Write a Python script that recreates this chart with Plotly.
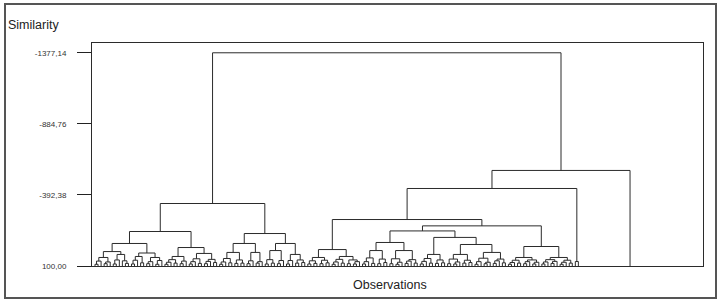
import plotly.graph_objects as go

# ---------------- DATA ----------------
# Lowest-level clusters, Newick-like: "o" = observation, "(a,b)h" = merge at similarity h
cluster_names = ["A1", "A2", "A3", "A4", "B1", "B2", "C1", "C2", "D1", "D2",
                 "E1", "E2", "F1a", "F1b", "F2a", "F2b1", "F2b2", "G1", "G2", "R1b", "X1"]
cluster_newick = [
    "(((o,o)88,o)66,((o,o)84,o)72)41",
    "(((o,o)86,o)58,(o,(o,o)82)64)20",
    "(((o,o)86,o)60,(o,o)78)34",
    "(((o,o)84,o)70,((o,o)88,o)62)41",
    "((((o,o)88,o)74,(o,o)80)56,((o,o)84,o)66)34",
    "((((o,o)86,o)70,(o,o)82)50,(((o,o)84,o)68,(o,o)76)54)13",
    "((((o,o)88,o)72,(o,o)78)48,((o,o)82,(o,o)80)58)6",
    "(((o,o)84,o)64,((o,o)80,o)70)6",
    "(((o,o)86,(o,o)80)56,((o,o)84,o)62)-7",
    "(((o,o)86,o)62,((o,o)80,(o,o)76)58)20",
    "(((o,o)86,(o,o)82)64,((o,o)84,(o,o)78)60)41",
    "((((o,o)88,o)72,(o,o)80)54,((o,o)84,((o,o)86,o)70)58)34",
    "((((o,o)86,o)70,(o,o)82)44,((o,o)84,(o,o)76)52)-7",
    "(((o,o)84,((o,o)88,o)74)50,(((o,o)82,o)66,(o,o)80)56)-7",
    "((((o,o)86,o)68,(o,o)80)48,((o,o)82,(o,o)78)58)20",
    "(((o,o)84,((o,o)86,o)72)52,((o,o)80,(o,o)76)60)20",
    "((((o,o)88,o)70,((o,o)84,o)74)46,(((o,o)82,o)64,(o,o)78)52)6",
    "((((o,o)88,o)76,(o,o)80)60,(((o,o)84,o)70,((o,o)86,o)74)58)41",
    "((((o,o)86,o)72,((o,o)82,o)68)56,(((o,o)88,o)74,(o,o)80)60)41",
    "(o,o)69",
    "o",
]

# Upper merges
merge_name = ["A12", "A34", "A", "B", "L1", "C", "D", "L2", "L", "E",
              "F1", "F2b", "F2", "F", "G", "R1ar", "R1a", "R1", "R", "ROOT"]
merge_left = ["A1", "A3", "A12", "B1", "A", "C1", "D1", "C", "L1", "E1",
              "F1a", "F2b1", "F2a", "F1", "G1", "F", "E", "R1a", "R1", "L"]
merge_right = ["A2", "A4", "A34", "B2", "B", "C2", "D2", "D", "L2", "E2",
               "F1b", "F2b2", "F2b", "F2", "G2", "G", "R1ar", "R1b", "X1", "R"]
merge_sim = [0, 10, -56, -28, -139, -56, -56, -125, -333, -14,
             -63, -49, -98, -143, -35, -178, -222, -437, -562, -1377.14]

tick_vals = [100.00, -392.38, -884.76, -1377.14]
tick_text = ["100,00", "-392,38", "-884,76", "-1377,14"]

BASE = 100.0
leaf_gap_before = {"X1": 16}   # extra spacing before the isolated observation

# ---------------- BUILD ----------------
def parse(s):
    pos = 0

    def node():
        nonlocal pos
        if s[pos] == "o":
            pos += 1
            return ("leaf",)
        pos += 1  # '('
        left = node()
        pos += 1  # ','
        right = node()
        pos += 1  # ')'
        start = pos
        while pos < len(s) and (s[pos].isdigit() or s[pos] in "-."):
            pos += 1
        return ("node", left, right, float(s[start:pos]))

    return node()

trees = {n: parse(s) for n, s in zip(cluster_names, cluster_newick)}
merges = {n: (l, r, h) for n, l, r, h in zip(merge_name, merge_left, merge_right, merge_sim)}

xs, ys = [], []
cursor = [0.0]

def draw_tree(t):
    if t[0] == "leaf":
        x = cursor[0]
        cursor[0] += 1
        return x, BASE
    _, l, r, h = t
    xl, yl = draw_tree(l)
    xr, yr = draw_tree(r)
    xs.extend([xl, xl, xr, xr, None])
    ys.extend([yl, h, h, yr, None])
    return (xl + xr) / 2, h

def draw_named(name):
    if name in merges:
        l, r, h = merges[name]
        xl, yl = draw_named(l)
        xr, yr = draw_named(r)
        xs.extend([xl, xl, xr, xr, None])
        ys.extend([yl, h, h, yr, None])
        return (xl + xr) / 2, h
    cursor[0] += leaf_gap_before.get(name, 0)
    return draw_tree(trees[name])

draw_named("ROOT")

fig = go.Figure()
fig.add_trace(go.Scatter(x=xs, y=ys, mode="lines",
                         line=dict(color="#2b2b2b", width=1),
                         hoverinfo="skip", showlegend=False))

L_M, R_M, T_M, B_M = 92, 20, 43, 36
W, H = 723, 302
pw, ph = W - L_M - R_M, H - T_M - B_M

def px_x(p):
    return (p - L_M) / pw

def px_y(p):
    return (H - B_M - p) / ph

fig.update_layout(
    width=W, height=H,
    margin=dict(l=L_M, r=R_M, t=T_M, b=B_M),
    paper_bgcolor="white", plot_bgcolor="white",
    font=dict(family="Liberation Sans, Arial, sans-serif", color="#222"),
    xaxis=dict(range=[-0.99, 200], showgrid=False, zeroline=False,
               showticklabels=False, ticks="", showline=True, mirror=True,
               linecolor="#2b2b2b", linewidth=1, fixedrange=True),
    yaxis=dict(range=[100, -1445], showgrid=False, zeroline=False,
               tickvals=tick_vals, ticktext=tick_text, ticks="outside",
               ticklen=14, tickcolor="#222", tickwidth=1,
               ticklabelstandoff=9,
               tickfont=dict(size=8, color="#333", family="Liberation Sans, Arial, sans-serif"),
               showline=True, mirror=True, linecolor="#2b2b2b", linewidth=1,
               fixedrange=True),
    annotations=[
        dict(text="Similarity", x=px_x(6), y=px_y(25), xref="paper", yref="paper",
             xanchor="left", yanchor="middle", showarrow=False,
             font=dict(size=12.5, color="#222")),
        dict(text="Observations", x=px_x(390), y=px_y(285), xref="paper", yref="paper",
             xanchor="center", yanchor="middle", showarrow=False,
             font=dict(size=12.5, color="#222")),
    ],
    shapes=[
        dict(type="rect", xref="paper", yref="paper",
             x0=px_x(5), x1=px_x(716), y0=px_y(298), y1=px_y(4),
             line=dict(color="#555", width=2), fillcolor="rgba(0,0,0,0)"),
    ],
)

fig.write_html("out.html", config={"displayModeBar": False},
               post_script="document.body.style.margin='0px';document.body.style.overflow='hidden';")
